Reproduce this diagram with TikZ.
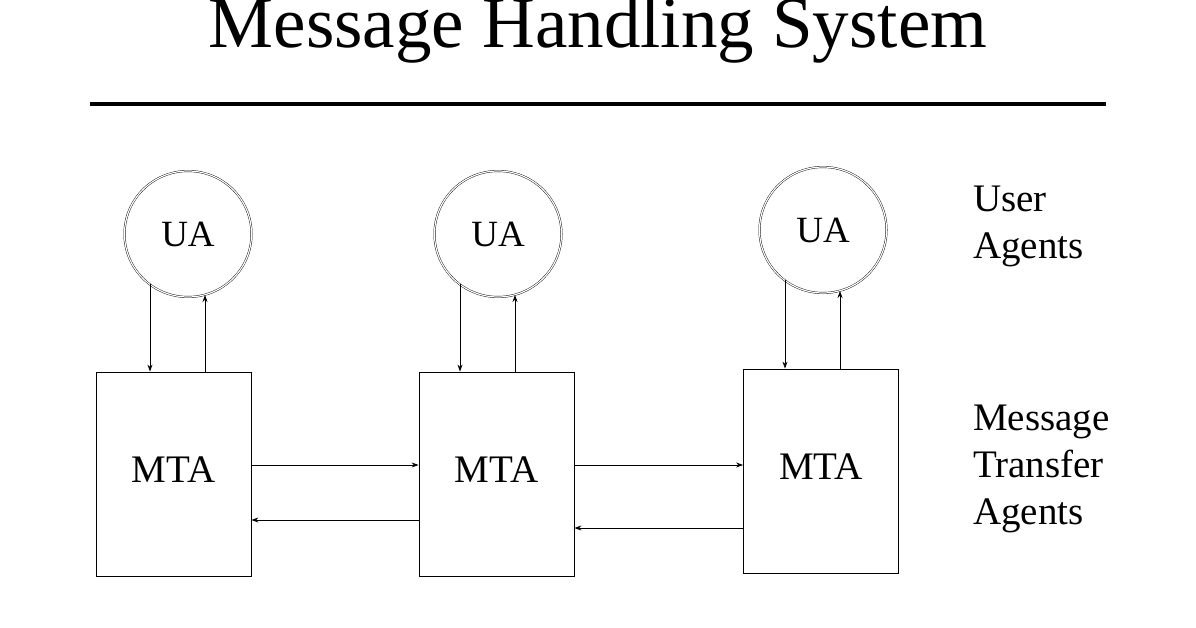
\documentclass[tikz,border=0pt]{standalone}
\usepackage{fontspec}
\setmainfont{Liberation Serif}
\usetikzlibrary{arrows.meta,shapes.geometric}
\begin{document}
\begin{tikzpicture}[x=1pt,y=-1pt,
  ua/.style={ellipse,draw,minimum width=127pt,minimum height=126pt,inner sep=0pt,font=\fontsize{37}{40}\selectfont,double,double distance=1.2pt},
  mta/.style={draw,minimum width=155pt,minimum height=204pt,font=\fontsize{39}{42}\selectfont,line width=0.8pt},
  arr/.style={-{Stealth[length=7pt,width=5pt]},line width=0.8pt},
  lab/.style={align=left,anchor=north west,font=\fontsize{39}{47}\selectfont,inner sep=0pt}]
\useasboundingbox (0,0) rectangle (1196,628);
\node[font=\fontsize{73}{78}\selectfont,anchor=base,inner sep=0pt] (title) at (598,48) {Message Handling System};
\coordinate (l1) at (90,104); \coordinate (l2) at (1106,104);
\draw[line width=3.5pt] (l1) -- (l2);
\node[ua] (ua1) at (188,234) {UA};
\node[ua] (ua2) at (498,234) {UA};
\node[ua] (ua3) at (823,230) {UA};
\node[mta] (m1) at (173.5,474) {\raisebox{8pt}{MTA}};
\node[mta] (m2) at (496.5,474) {\raisebox{8pt}{MTA}};
\node[mta] (m3) at (821,471) {\raisebox{8pt}{MTA}};
\foreach \u/\m in {ua1/m1,ua2/m2,ua3/m3}{
  \coordinate (a) at ([xshift=-38pt,yshift=-50pt]\u.center);
  \coordinate (b) at ([xshift=17pt,yshift=-61pt]\u.center);
  \draw[arr] (a) -- (a |- \m.north);
  \draw[arr] (b |- \m.north) -- (b);
}
\draw[arr] ([yshift=9pt]m1.east) -- ([yshift=9pt]m1.east -| m2.west);
\draw[arr] ([yshift=-46pt]m2.west) -- ([yshift=-46pt]m2.west -| m1.east);
\draw[arr] ([yshift=9pt]m2.east) -- ([yshift=9pt]m2.east -| m3.west);
\draw[arr] ([yshift=-57pt]m3.west) -- ([yshift=-57pt]m3.west -| m2.east);
\node[lab] (t1) at (973,186) {User\\Agents};
\node[lab] (t2) at (973,405) {Message\\Transfer\\Agents};
\end{tikzpicture}
\end{document}
